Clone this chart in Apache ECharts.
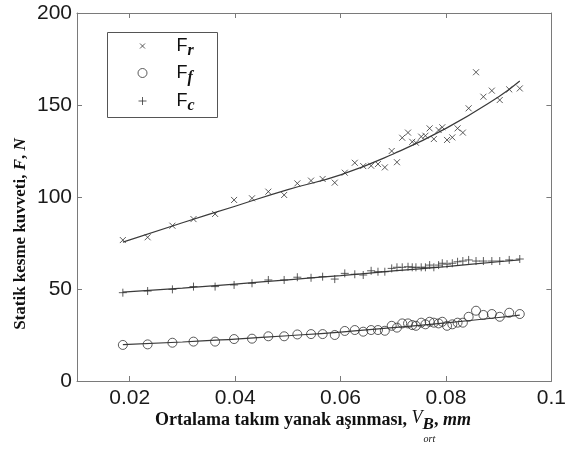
<!DOCTYPE html>
<html>
<head>
<meta charset="utf-8">
<script src="https://cdn.jsdelivr.net/npm/echarts@6/dist/echarts.min.js"></script>
<style>
html,body{margin:0;padding:0;background:#fff;}
#chart{width:569px;height:452px;}
</style>
</head>
<body>
<div id="chart"></div>
<script>
// ---- data ----
const wearX = [0.0187,0.0234,0.0281,0.0321,0.0362,0.0398,0.0432,0.0463,0.0493,0.0518,
  0.0544,0.0566,0.0589,0.0608,0.0627,0.0643,0.0658,0.0671,0.0684,0.0697,
  0.0707,0.0717,0.0728,0.0736,0.0743,0.0753,0.0761,0.0769,0.0777,0.0786,
  0.0793,0.0802,0.0812,0.0822,0.0832,0.0843,0.0857,0.0871,0.0887,0.0902,
  0.0920,0.0940];
const frVals = [76.6,78.1,84.4,88,90.8,98.4,99.3,102.9,101.1,107.4,
  108.9,109.8,107.8,113.2,118.6,116.8,117,117.9,116.1,125,
  118.9,132.2,135,130,129.5,132.8,133.3,137.3,131.5,136.4,
  137.9,131,132.4,137.3,135,148.2,167.8,154.5,157.8,152.7,
  158.5,159];
const ffVals = [19.6,19.9,20.8,21.4,21.4,22.8,23,24.3,24.3,25.3,
  25.5,25.5,25,27.2,27.7,26.8,27.7,27.7,27.3,30,
  29,31.3,31.3,30.4,30,31.7,30.8,32.2,31.7,31.3,
  32.2,30,30.8,31.7,31.7,34.9,38.2,35.9,36.4,34.9,
  37.1,36.4];
const fcVals = [48,48.9,49.8,51.3,51.3,52.2,53.1,54.9,54.9,56.4,
  56.1,56.7,55.4,58.5,58,57.6,59.9,59.4,59.4,61.2,
  61.8,61.8,62.1,61.8,61.8,61.8,61.8,63,61.8,63,
  64,63.5,64,64.8,65.2,65.8,65.2,65.2,65.2,65.2,
  65.8,66.3];
const fitX  = [0.0187,0.03,0.04,0.05,0.06,0.07,0.08,0.09,0.094];
const frFit = [75.5,86,95,104,112,123.4,137.3,154.5,163];
const ffFit = [19.8,21.2,22.8,24.6,26.6,29,31.6,34.5,35.8];
const fcFit = [48.3,50.5,52.7,55,57.3,59.8,62.2,64.8,65.8];
const xTicks = [0.02,0.04,0.06,0.08,0.1];
const yTicks = [0,50,100,150,200];
const seriesNames = ['Fr','Ff','Fc'];

// ---- build ----
const pairs = (xa, ya) => xa.map((x, i) => [x, ya[i]]);
const AX = '#7a7a7a';
const SYM_X = 'path://M0,0L10,10M10,0L0,10';
const SYM_P = 'path://M5,0L5,10M0,5L10,5';

const chart = echarts.init(document.getElementById('chart'), null, {renderer:'canvas'});

const tickFont = {fontFamily:'"Liberation Sans", Arial, sans-serif', fontSize:21, color:'#1a1a1a'};
function xAxisDef(pos, show){
  return {type:'value', position:pos, min:0.01, max:0.1,
    axisLine:{show:true, onZero:false, lineStyle:{color:AX, width:1}},
    axisTick:{show:true, inside:true, length:5, customValues:xTicks, lineStyle:{color:AX}},
    axisLabel:Object.assign({show:show, margin:7, customValues:xTicks}, tickFont),
    splitLine:{show:false}};
}
function yAxisDef(pos, show){
  return {type:'value', position:pos, min:0, max:200, interval:50,
    axisLine:{show:true, onZero:false, lineStyle:{color:AX, width:1}},
    axisTick:{show:true, inside:true, length:5, customValues:yTicks, lineStyle:{color:AX}},
    axisLabel:Object.assign({show:show, margin:5, customValues:yTicks}, tickFont),
    splitLine:{show:false}};
}

function legendDef(name, size, rowY){
  const lh = 22;
  const gap = 174 - (140 + size/2 + 5);
  return {
    data:[name], orient:'vertical', left:140 - size/2, top:rowY - lh/2, padding:0,
    itemWidth:size, itemHeight:size, selectedMode:false,
    itemStyle:{color:'none', borderColor:'#333', borderWidth:1},
    formatter: n => '{g|}{a|F}{b|' + n.slice(1) + '}',
    textStyle:{rich:{
      g:{width:gap},
      a:{fontFamily:'"Liberation Sans", Arial, sans-serif', fontSize:18, color:'#111', lineHeight:lh, verticalAlign:'middle'},
      b:{fontFamily:'"Liberation Serif", "Times New Roman", serif', fontStyle:'italic', fontWeight:'bold', fontSize:16, color:'#111', height:13, lineHeight:lh, verticalAlign:'bottom'}
    }}
  };
}

const lineStyle = {color:'#3a3a3a', width:1.2};
const option = {
  animation:false,
  backgroundColor:'#fff',
  grid:{left:77, right:12, top:13, bottom:71, containLabel:false},
  xAxis:[xAxisDef('bottom', true), xAxisDef('top', false)],
  yAxis:[yAxisDef('left', true), yAxisDef('right', false)],
  legend:[legendDef('Fr', 5, 48), legendDef('Ff', 9, 75), legendDef('Fc', 8, 103)],
  series:[
    {name:seriesNames[0], type:'scatter', data:pairs(wearX, frVals), symbol:SYM_X, symbolSize:6,
      itemStyle:{color:'none', borderColor:'#333', borderWidth:1}},
    {name:seriesNames[1], type:'scatter', data:pairs(wearX, ffVals), symbol:'circle', symbolSize:9,
      itemStyle:{color:'none', borderColor:'#333', borderWidth:1}},
    {name:seriesNames[2], type:'scatter', data:pairs(wearX, fcVals), symbol:SYM_P, symbolSize:8,
      itemStyle:{color:'none', borderColor:'#333', borderWidth:1}},
    {name:'frFit', type:'line', data:pairs(fitX, frFit), smooth:true, showSymbol:false, silent:true, lineStyle:lineStyle, z:1},
    {name:'ffFit', type:'line', data:pairs(fitX, ffFit), smooth:true, showSymbol:false, silent:true, lineStyle:lineStyle, z:1},
    {name:'fcFit', type:'line', data:pairs(fitX, fcFit), smooth:true, showSymbol:false, silent:true, lineStyle:lineStyle, z:1}
  ]
};

// ---- axis titles (graphic text, laid out by measured widths) ----
const mctx = document.createElement('canvas').getContext('2d');
function tw(t, font){ mctx.font = font; return mctx.measureText(t).width; }
const SERIF = '"Liberation Serif", "Times New Roman", serif';
const xParts = [
  {t:'Ortalama takım yanak aşınması, ', f:'bold 18px ' + SERIF, dy:0},
  {t:'V', f:'italic 18px ' + SERIF, dy:-2},
  {t:'B', f:'italic bold 17px ' + SERIF, dy:5},
  {t:',', f:'bold 18px ' + SERIF, dy:0},
  {t:' mm', f:'italic bold 18px ' + SERIF, dy:0}
];
let total = 0; xParts.forEach(p => { p.w = tw(p.t, p.f); total += p.w; });
let cx = 313 - total/2;
const titleY = 420;
const graphics = [];
xParts.forEach(p => {
  graphics.push({type:'text', x:cx, y:titleY + p.dy,
    style:{text:p.t, font:p.f, fill:'#111', align:'left', verticalAlign:'middle'}});
  if (p.t === 'B') {
    graphics.push({type:'text', x:cx + 1, y:titleY + 19,
      style:{text:'ort', font:'italic 10px ' + SERIF, fill:'#111', align:'left', verticalAlign:'middle'}});
  }
  cx += p.w;
});
// y title
graphics.push({type:'text', x:21, y:234, rotation:Math.PI/2,
  style:{text:'{b|Statik kesme kuvveti, }{i|F}{b|, }{i|N}', align:'center', verticalAlign:'middle',
    rich:{
      b:{font:'bold 17px ' + SERIF, fill:'#111'},
      i:{font:'italic bold 17px ' + SERIF, fill:'#111'}
    }}});
// legend box
graphics.push({type:'rect', shape:{x:107.5, y:32.5, width:110, height:85},
  style:{fill:'none', stroke:'#555', lineWidth:1}, z:10});
option.graphic = graphics;

chart.setOption(option);
</script>
</body>
</html>
